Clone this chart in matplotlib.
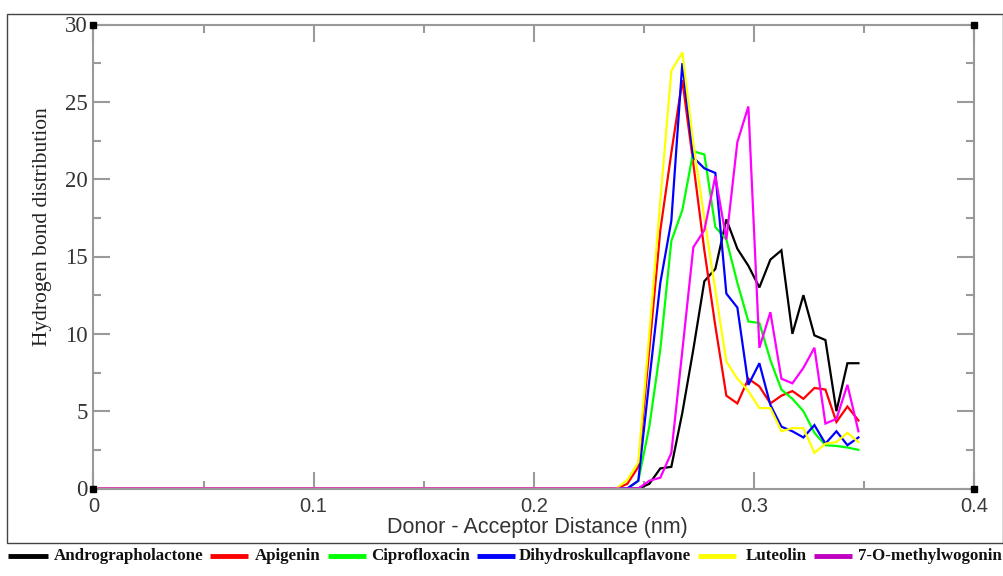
import numpy as np
import matplotlib
matplotlib.use("Agg")
import matplotlib.pyplot as plt
from matplotlib.lines import Line2D
from matplotlib.patches import Rectangle

# Donor-acceptor distance bins (nm), bin width 0.005
distance = np.round(0.0025 + 0.005 * np.arange(70), 4)

# Hydrogen-bond distance distributions; all bins below 0.2375 nm are empty
n_empty = 47
andrographolactone = [0.0] * n_empty + [
    0.0, 0.0, 0.0, 0.3, 1.3, 1.4, 4.9, 9.0, 13.4, 14.2, 17.4, 15.5,
    14.4, 13.0, 14.8, 15.4, 10.0, 12.5, 9.9, 9.6, 5.0, 8.1, 8.1]
apigenin = [0.0] * n_empty + [
    0.0, 0.3, 1.4, 9.0, 16.7, 21.7, 26.4, 21.0, 15.4, 10.5, 6.0, 5.5,
    7.1, 6.6, 5.5, 6.0, 6.3, 5.8, 6.5, 6.4, 4.3, 5.3, 4.4]
ciprofloxacin = [0.0] * n_empty + [
    0.0, 0.0, 0.5, 4.0, 9.0, 16.0, 18.0, 21.8, 21.6, 16.9, 16.1, 13.3,
    10.8, 10.7, 8.3, 6.4, 5.8, 5.0, 3.6, 2.8, 2.75, 2.65, 2.5]
dihydroskullcapflavone = [0.0] * n_empty + [
    0.0, 0.0, 0.5, 7.0, 13.3, 17.3, 27.5, 21.4, 20.7, 20.4, 12.6, 11.7,
    6.7, 8.1, 5.4, 4.0, 3.7, 3.3, 4.1, 2.9, 3.7, 2.8, 3.3]
luteolin = [0.0] * n_empty + [
    0.0, 0.55, 1.7, 10.0, 18.6, 27.0, 28.2, 22.3, 17.5, 12.8, 8.2, 7.1,
    6.3, 5.2, 5.2, 3.7, 3.9, 3.9, 2.3, 2.9, 3.0, 3.6, 3.0]
methylwogonin = [0.0] * n_empty + [
    0.0, 0.0, 0.0, 0.5, 0.7, 2.3, 8.9, 15.6, 16.7, 20.2, 16.1, 22.4,
    24.7, 9.1, 11.4, 7.1, 6.8, 7.8, 9.1, 4.2, 4.5, 6.7, 3.7]

names = ["Andrographolactone", "Apigenin", "Ciprofloxacin",
         "Dihydroskullcapflavone", "Luteolin", "7-O-methylwogonin"]
series = [andrographolactone, apigenin, ciprofloxacin,
          dihydroskullcapflavone, luteolin, methylwogonin]
colors = ["#000000", "#ff0000", "#00ff00", "#0000ff", "#ffff00", "#ff00ff"]
legend_colors = ["#000000", "#ff0000", "#00ff00", "#0000ff", "#ffff00", "#c000c0"]

x_ticks = [0, 0.1, 0.2, 0.3, 0.4]
x_tick_labels = ["0", "0.1", "0.2", "0.3", "0.4"]
y_ticks = [0, 5, 10, 15, 20, 25, 30]

W, H = 1004, 576
fig = plt.figure(figsize=(W / 100, H / 100), dpi=100)
fig.patch.set_facecolor("white")

# outer frame
fig.add_artist(Rectangle((7 / W, 1 - 543 / H), (1003 - 7) / W, (543 - 14) / H,
                         transform=fig.transFigure, fill=False,
                         edgecolor="#444444", linewidth=1.0))

ax = fig.add_axes([93.5 / W, 1 - 488.5 / H, (974 - 93.5) / W, (488.5 - 24.5) / H])

for y, c in zip(series, colors):
    ax.plot(distance, y, color=c, linewidth=1.6, solid_joinstyle="miter")

ax.set_xlim(0, 0.4)
ax.set_ylim(0, 30)

axis_grey = "#9a9a9a"
for s in ax.spines.values():
    s.set_color(axis_grey)
    s.set_linewidth(1.5)

ax.set_xticks(x_ticks)
ax.set_xticklabels(x_tick_labels)
ax.set_xticks([0.05, 0.15, 0.25, 0.35], minor=True)
ax.set_yticks(y_ticks)
ax.set_yticks([2.5, 7.5, 12.5, 17.5, 22.5, 27.5], minor=True)

ax.tick_params(which="both", direction="in", top=True, right=True,
               color=axis_grey, width=1.5)
ax.tick_params(which="major", length=12)
ax.tick_params(which="minor", length=6)
ax.tick_params(axis="x", which="major", pad=6, labelsize=14.5,
               labelcolor="#3a3a3a")
ax.tick_params(axis="y", which="major", pad=4, labelsize=16.5,
               labelcolor="#333333")
for lab in ax.get_xticklabels():
    lab.set_family("Liberation Sans")
for lab in ax.get_yticklabels():
    lab.set_family("Liberation Serif")

# black corner markers
for cx, cy in [(0, 0), (0, 1), (1, 0), (1, 1)]:
    ax.plot(cx, cy, marker="s", markersize=4, color="black",
            transform=ax.transAxes, clip_on=False, zorder=10)

fig.text(537 / W, 1 - 527 / H, "Donor - Acceptor Distance (nm)",
         ha="center", va="center", fontsize=15.5, color="#333333",
         family="Liberation Sans")
fig.text(43 / W, 1 - 227 / H, "Hydrogen bond distribution",
         ha="center", va="center", rotation=90, fontsize=15.5,
         color="#222222", family="Liberation Serif")

# legend row
legend_y = 1 - 556 / H
bar_spans = [(8, 48), (210, 248), (328, 366), (477, 515), (698, 736), (814, 852)]
text_x = [54, 255, 371, 519, 746, 858]
for (x0, x1), tx, name, c in zip(bar_spans, text_x, names, legend_colors):
    fig.add_artist(Line2D([x0 / W, x1 / W], [legend_y, legend_y],
                          transform=fig.transFigure, color=c, linewidth=3.5,
                          solid_capstyle="butt"))
    fig.text(tx / W, legend_y, name, ha="left", va="center", fontsize=12.2,
             fontweight="bold", family="Liberation Serif", color="#111111")

fig.savefig("out.png", dpi=100)
